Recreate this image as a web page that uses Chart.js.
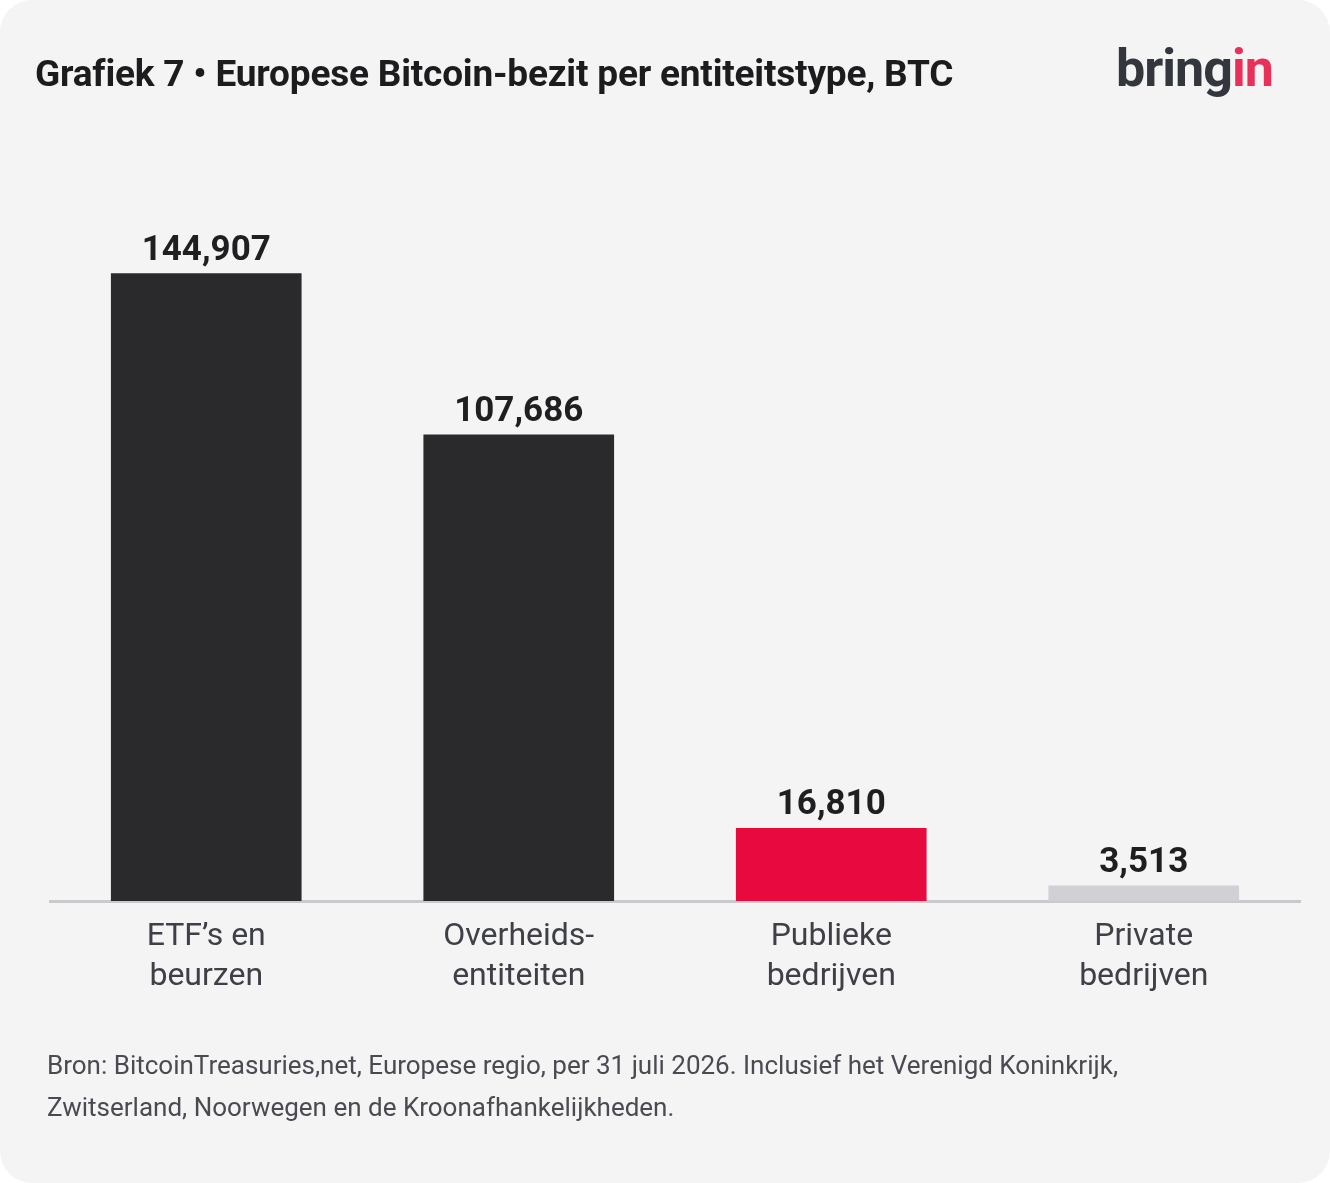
<!DOCTYPE html>
<html>
<head>
<meta charset="utf-8">
<script src="https://cdn.jsdelivr.net/npm/chart.js@4.4.1/dist/chart.umd.min.js"></script>
<style>
  html, body { margin: 0; padding: 0; background: #ffffff; }
  #card {
    position: relative; width: 1330px; height: 1183px;
    background: #f4f4f4; border-radius: 32px; overflow: hidden;
    font-family: Roboto, "Noto Sans", sans-serif;
  }
  #title {
    position: absolute; left: 35px; top: 52px;
    font-size: 37px; font-weight: 700; color: #1c1c1e; white-space: nowrap;
    letter-spacing: -0.2px; line-height: 44px;
  }
  #logo {
    position: absolute; left: 1116px; top: 38px;
    font-size: 52px; font-weight: 700; color: #33363d; letter-spacing: -1px;
  }
  #logo span { color: #e8305a; }
  #note {
    position: absolute; left: 47px; top: 1044px; width: 1250px;
    font-size: 26px; line-height: 42px; color: #4a4b52;
  }
  #chartWrap { position: absolute; left: 0; top: 0; width: 1330px; height: 1183px; }
</style>
</head>
<body>
<div id="card">
  <div id="chartWrap"><canvas id="c"></canvas></div>
  <div id="title">Grafiek 7 • Europese Bitcoin-bezit per entiteitstype, BTC</div>
  <div id="logo">bring<span>in</span></div>
  <div id="note">Bron: BitcoinTreasuries,net, Europese regio, per 31 juli 2026. Inclusief het Verenigd Koninkrijk,<br>Zwitserland, Noorwegen en de Kroonafhankelijkheden.</div>
</div>
<script>
const categories = [["ETF’s en", "beurzen"], ["Overheids-", "entiteiten"], ["Publieke", "bedrijven"], ["Private", "bedrijven"]];
const holdings = [144907, 107686, 16810, 3513];
const valueLabels = ["144,907", "107,686", "16,810", "3,513"];
const barColors = ["#2a2a2c", "#2a2a2c", "#e8093f", "#d1d0d5"];

const valueLabelPlugin = {
  id: 'valueLabels',
  afterDatasetsDraw(chart) {
    const ctx = chart.ctx;
    const meta = chart.getDatasetMeta(0);
    ctx.save();
    ctx.font = '700 35px Roboto, "Noto Sans", sans-serif';
    ctx.fillStyle = '#1f1f21';
    ctx.textAlign = 'center';
    ctx.textBaseline = 'alphabetic';
    meta.data.forEach((bar, i) => {
      ctx.fillText(valueLabels[i], bar.x, bar.y - 14);
    });
    ctx.restore();
  }
};

new Chart(document.getElementById('c'), {
  type: 'bar',
  data: {
    labels: categories,
    datasets: [{
      data: holdings,
      backgroundColor: barColors,
      borderWidth: 0,
      barThickness: 190
    }]
  },
  options: {
    responsive: true,
    maintainAspectRatio: false,
    animation: false,
    events: [],
    layout: { padding: { left: 50, right: 30, top: 230, bottom: 182 } },
    plugins: { legend: { display: false }, tooltip: { enabled: false } },
    scales: {
      y: {
        display: false,
        min: 0,
        max: 155000
      },
      x: {
        afterFit: (scale) => { scale.height = 100; },
        grid: { display: false, drawTicks: false },
        border: { display: true, color: '#c9c9ce', width: 3 },
        ticks: {
          color: '#3f4047',
          padding: 16,
          font: { family: 'Roboto, "Noto Sans", sans-serif', size: 32, lineHeight: 1.25 }
        }
      }
    }
  },
  plugins: [valueLabelPlugin]
});
</script>
</body>
</html>
